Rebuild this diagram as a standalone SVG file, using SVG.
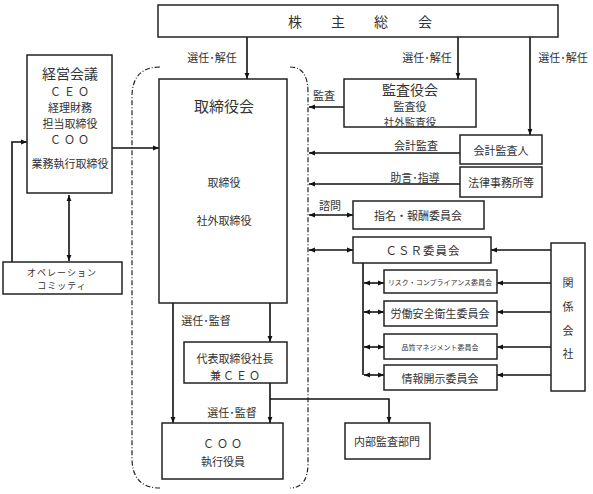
<svg xmlns="http://www.w3.org/2000/svg" width="593" height="494" viewBox="0 0 593 494">
<defs>
<marker id="ah" viewBox="0 0 10 10" refX="10" refY="5" markerWidth="6" markerHeight="6" orient="auto-start-reverse" markerUnits="userSpaceOnUse">
<path d="M0,1 L10,5 L0,9 z" fill="#111"/>
</marker>
<style>
.box{fill:#fff;stroke:#222;stroke-width:1.5}
.t{font-family:"Noto Sans CJK JP","Noto Sans",sans-serif;fill:#333;text-anchor:middle;dominant-baseline:central}
.c{stroke:#111;stroke-width:1.6;fill:none}
.a{stroke:#111;stroke-width:1.6;fill:none;marker-end:url(#ah)}
.b{stroke:#111;stroke-width:1.6;fill:none;marker-end:url(#ah);marker-start:url(#ah)}
.dd{stroke:#222;stroke-width:1.2;fill:none;stroke-dasharray:5 2 1 2}
</style>
</defs>
<rect width="593" height="494" fill="#fff"/>

<g id="connectors">
<path class="a" d="M247 37 V79"/>
<path class="a" d="M458 37 V79"/>
<path class="a" d="M530 37 V135"/>
<path class="a" d="M112 148 H159"/>
<path class="a" d="M12 262 V142 H27"/>
<path class="b" d="M69 195 V261"/>
<path class="a" d="M344 107 H309"/>
<path class="a" d="M460 153 H309"/>
<path class="a" d="M460 184 H309"/>
<path class="b" d="M309 215 H353"/>
<path class="b" d="M309 250 H353"/>
<path class="c" d="M363 263 V375"/>
<path class="b" d="M364 283 H384"/>
<path class="b" d="M364 312 H384"/>
<path class="b" d="M364 347 H384"/>
<path class="b" d="M364 375 H384"/>
<path class="a" d="M551 250 H491"/>
<path class="a" d="M551 283 H497"/>
<path class="a" d="M551 312 H497"/>
<path class="a" d="M551 347 H497"/>
<path class="a" d="M551 375 H497"/>
<path class="a" d="M173 303 V423"/>
<path class="a" d="M270 303 V342"/>
<path class="a" d="M270 383 V423"/>
<path class="a" d="M270 399 H389 V423"/>
<path class="dd" d="M160 67 Q132 67 132 97 V458 Q132 488 160 488"/>
<path class="dd" d="M290 67 Q308 67 308 92 V463 Q308 488 290 488"/>
<text class="t" x="212" y="57" font-size="11">選任･解任</text>
<text class="t" x="427" y="57" font-size="11">選任･解任</text>
<text class="t" x="563" y="57" font-size="11">選任･解任</text>
<text class="t" x="324" y="95" font-size="11">監査</text>
<text class="t" x="416" y="145" font-size="11">会計監査</text>
<text class="t" x="415" y="177" font-size="11">助言･指導</text>
<text class="t" x="330" y="205" font-size="11">諮問</text>
<text class="t" x="206" y="320" font-size="11">選任･監督</text>
<text class="t" x="232" y="412" font-size="11">選任･監督</text>
</g>

<g id="kabunushi">
<rect class="box" x="158" y="5" width="400" height="32"/>
<text class="t" x="295 338 381 425" y="21" font-size="14">株主総会</text>
</g>

<g id="keiei">
<rect class="box" x="27" y="55" width="85" height="138"/>
<text class="t" x="70" y="73" font-size="14">経営会議</text>
<text class="t" x="71" y="91" font-size="11" letter-spacing="3">ＣＥＯ</text>
<text class="t" x="70" y="106.5" font-size="11">経理財務</text>
<text class="t" x="70" y="122.5" font-size="11">担当取締役</text>
<text class="t" x="71" y="139" font-size="11" letter-spacing="3">ＣＯＯ</text>
<text class="t" x="70" y="163" font-size="11">業務執行取締役</text>
</g>

<g id="operation">
<rect class="box" x="3" y="262" width="119" height="32"/>
<text class="t" x="62" y="272" font-size="9" letter-spacing="1">オペレーション</text>
<text class="t" x="62" y="285" font-size="9" letter-spacing="1">コミッティ</text>
</g>

<g id="torishimariyakukai">
<rect class="box" x="159" y="79" width="128" height="224"/>
<text class="t" x="224" y="105" font-size="15">取締役会</text>
<text class="t" x="224" y="182" font-size="11">取締役</text>
<text class="t" x="224" y="220" font-size="11">社外取締役</text>
</g>

<g id="daihyo">
<rect class="box" x="184" y="342" width="103" height="41"/>
<text class="t" x="235" y="358" font-size="11">代表取締役社長</text>
<text class="t" x="236" y="375" font-size="11" letter-spacing="2">兼ＣＥＯ</text>
</g>

<g id="coo">
<rect class="box" x="162" y="423" width="121" height="56"/>
<text class="t" x="224" y="443" font-size="11" letter-spacing="3">ＣＯＯ</text>
<text class="t" x="223" y="461" font-size="11">執行役員</text>
</g>

<g id="naibu">
<rect class="box" x="345" y="423" width="85" height="36"/>
<text class="t" x="387" y="441" font-size="11">内部監査部門</text>
</g>

<g id="kansayakukai">
<rect class="box" x="344" y="79" width="132" height="48"/>
<text class="t" x="410" y="89" font-size="14">監査役会</text>
<text class="t" x="410" y="105.5" font-size="11">監査役</text>
<text class="t" x="410" y="121" font-size="10.5">社外監査役</text>
</g>

<g id="kaikei">
<rect class="box" x="460" y="135" width="82" height="29"/>
<text class="t" x="501" y="150" font-size="11">会計監査人</text>
</g>

<g id="houritsu">
<rect class="box" x="460" y="167" width="82" height="30"/>
<text class="t" x="501" y="182" font-size="11">法律事務所等</text>
</g>

<g id="shimei">
<rect class="box" x="353" y="201" width="131" height="28"/>
<text class="t" x="418" y="215" font-size="11">指名・報酬委員会</text>
</g>

<g id="csr">
<rect class="box" x="353" y="237" width="138" height="26"/>
<text class="t" x="423" y="250" font-size="11.5" letter-spacing="1">ＣＳＲ委員会</text>
</g>

<g id="risk">
<rect class="box" x="384" y="270" width="113" height="23"/>
<text class="t" x="440" y="282" font-size="7">リスク・コンプライアンス委員会</text>
</g>

<g id="roudou">
<rect class="box" x="384" y="301" width="113" height="25"/>
<text class="t" x="440" y="313" font-size="11">労働安全衛生委員会</text>
</g>

<g id="hinshitsu">
<rect class="box" x="384" y="334" width="113" height="25"/>
<text class="t" x="440" y="347" font-size="7">品質マネジメント委員会</text>
</g>

<g id="jouhou">
<rect class="box" x="384" y="365" width="113" height="25"/>
<text class="t" x="440" y="378" font-size="11">情報開示委員会</text>
</g>

<g id="kankei">
<rect class="box" x="551" y="243" width="34" height="148"/>
<text class="t" x="568" y="282" font-size="11">関</text>
<text class="t" x="568" y="306" font-size="11">係</text>
<text class="t" x="568" y="330" font-size="11">会</text>
<text class="t" x="568" y="353" font-size="11">社</text>
</g>
</svg>
